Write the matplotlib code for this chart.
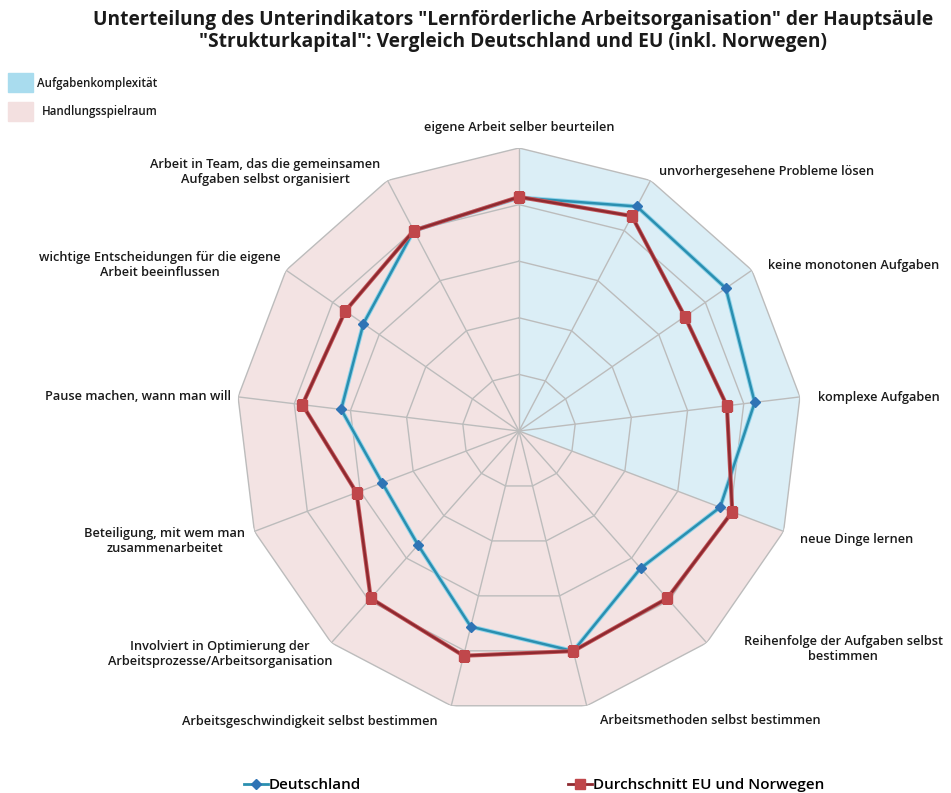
import numpy as np
import matplotlib.pyplot as plt
import matplotlib.patheffects as pe
from matplotlib.patches import Rectangle
from matplotlib.lines import Line2D

# Daten
kategorien = [
    "eigene Arbeit selber beurteilen",
    "unvorhergesehene Probleme lösen",
    "keine monotonen Aufgaben",
    "komplexe Aufgaben",
    "neue Dinge lernen",
    "Reihenfolge der Aufgaben selbst\nbestimmen",
    "Arbeitsmethoden selbst bestimmen",
    "Arbeitsgeschwindigkeit selbst bestimmen",
    "Involviert in Optimierung der\nArbeitsprozesse/Arbeitsorganisation",
    "Beteiligung, mit wem man\nzusammenarbeitet",
    "Pause machen, wann man will",
    "wichtige Entscheidungen für die eigene\nArbeit beeinflussen",
    "Arbeit in Team, das die gemeinsamen\nAufgaben selbst organisiert",
]
deutschland = [82.5, 89.6, 88.8, 83.9, 76.0, 64.8, 80.1, 71.2, 53.8, 51.7, 63.3, 66.8, 80.0]
eu_norwegen = [82.7, 85.8, 71.2, 74.0, 80.6, 79.0, 80.1, 81.8, 79.0, 61.4, 77.1, 74.6, 80.0]
ringe = [20, 40, 60, 80, 100]
n_komplex = 5   # Achsen 0..4 gehören zu Aufgabenkomplexität

plt.rcParams['font.family'] = ['Open Sans', 'DejaVu Sans']

W, H = 951, 793
fig = plt.figure(figsize=(W / 100, H / 100), dpi=100)

# Polarachse, Mitte bei (519, 431) px, Radius 283 px
cx, cy, R = 519, 431, 283
ax = fig.add_axes([(cx - R) / W, (H - cy - R) / H, 2 * R / W, 2 * R / H], projection='polar')
ax.set_theta_offset(np.pi / 2)
ax.set_theta_direction(-1)
ax.set_ylim(0, 100)
ax.grid(False)
ax.spines['polar'].set_visible(False)
ax.set_xticks([])
ax.set_yticks([])
ax.patch.set_alpha(0)

n = len(kategorien)
winkel = np.linspace(0, 2 * np.pi, n, endpoint=False)
winkel_zu = np.append(winkel, 2 * np.pi)

# Hintergrundflächen
t_blau = np.concatenate([[0], winkel_zu[:n_komplex]])
r_blau = np.concatenate([[0], [ringe[-1]] * n_komplex])
ax.fill(t_blau, r_blau, color='#dbeef6', zorder=0, lw=0)
t_rosa = np.concatenate([[0], winkel_zu[n_komplex - 1:]])
r_rosa = np.concatenate([[0], [ringe[-1]] * (len(winkel_zu) - n_komplex + 1)])
ax.fill(t_rosa, r_rosa, color='#f3e3e3', zorder=0, lw=0)

# Netz
for r in ringe:
    ax.plot(winkel_zu, [r] * len(winkel_zu), color='#bcbcbc', lw=1, zorder=1)
for w in winkel:
    ax.plot([w, w], [0, ringe[-1]], color='#bcbcbc', lw=1, zorder=1)

# Datenreihen
de_zu = deutschland + deutschland[:1]
eu_zu = eu_norwegen + eu_norwegen[:1]
ax.plot(winkel_zu, de_zu, color='#2a8fb0', lw=1.8, zorder=3,
        path_effects=[pe.Stroke(linewidth=3.2, foreground='#8fd3ea'), pe.Normal()])
ax.plot(winkel, deutschland, ls='none', marker='D', ms=5, color='#2f74b5', zorder=4)
ax.plot(winkel_zu, eu_zu, color='#8e2a30', lw=1.8, zorder=3,
        path_effects=[pe.Stroke(linewidth=3.0, foreground='#c85a5e'), pe.Normal()])
ax.plot(winkel, eu_norwegen, ls='none', marker='s', ms=7, color='#c0474b', zorder=4)

# Achsenbeschriftungen (Position in Pixel)
label_pos = [
    (519, 127, 'center'), (659, 171, 'left'), (768, 266, 'left'), (818, 397, 'left'),
    (800, 540, 'left'), (843, 649, 'center'), (710, 721, 'center'), (310, 721, 'center'),
    (220, 654, 'center'), (165, 541, 'center'), (231, 397, 'right'), (160, 265, 'center'),
    (265, 172, 'center'),
]
for text, (x, y, ha) in zip(kategorien, label_pos):
    fig.text(x / W, 1 - y / H, text, ha=ha, va='center', fontsize=9.2,
             fontweight='semibold', color='#1a1a1a', linespacing=1.25)

# Titel
fig.text(513 / W, 1 - 31 / H,
         'Unterteilung des Unterindikators "Lernförderliche Arbeitsorganisation" der Hauptsäule\n'
         '"Strukturkapital": Vergleich Deutschland und EU (inkl. Norwegen)',
         ha='center', va='center', fontsize=13.8, fontweight='bold', color='#1a1a1a',
         linespacing=1.2)

# Legende oben links
for y0, farbe, text, tx in [(73, '#a9dcee', 'Aufgabenkomplexität', 37),
                            (102, '#f3e0e0', 'Handlungsspielraum', 42)]:
    fig.patches.append(Rectangle((8 / W, 1 - (y0 + 19) / H), 25 / W, 19 / H,
                                 transform=fig.transFigure, color=farbe))
    fig.text(tx / W, 1 - (y0 + 10) / H, text, ha='left', va='center',
             fontsize=8.3, fontweight='semibold', color='#1a1a1a')

# Legende unten
handles = [
    Line2D([], [], color='#2a8fb0', lw=2, marker='D', ms=5, markerfacecolor='#2f74b5',
           markeredgecolor='#2f74b5'),
    Line2D([], [], color='#8e2a30', lw=2, marker='s', ms=7, markerfacecolor='#c0474b',
           markeredgecolor='#c0474b'),
]
fig.legend(handles, ['Deutschland', 'Durchschnitt EU und Norwegen'], ncol=2,
           loc='center', bbox_to_anchor=(534 / W, 1 - 785 / H), frameon=False,
           handlelength=1.6, handletextpad=0.05, columnspacing=13.5,
           prop={'size': 11, 'weight': 'semibold'})

fig.savefig('out.png', dpi=100)
